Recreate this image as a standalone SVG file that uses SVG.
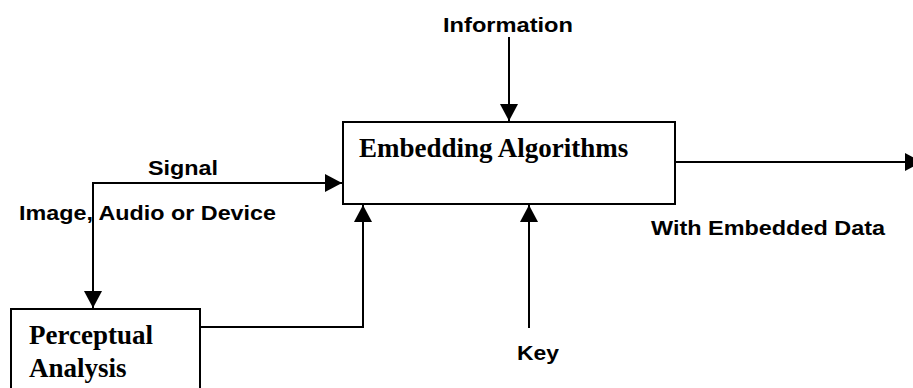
<svg xmlns="http://www.w3.org/2000/svg" width="913" height="388" viewBox="0 0 913 388">
  <style>
    .box { fill: #fff; stroke: #000; stroke-width: 2; }
    .wire { fill: none; stroke: #000; stroke-width: 2; }
    .lbl { font-family: "Liberation Sans", Arial, sans-serif; font-weight: bold; font-size: 20px; fill: #000; }
    .title { font-family: "Liberation Serif", "Times New Roman", serif; font-weight: bold; font-size: 27px; fill: #000; }
  </style>
  <defs>
    <marker id="arrow" viewBox="0 0 17 18" refX="17" refY="9" markerWidth="17" markerHeight="18" markerUnits="userSpaceOnUse" orient="auto">
      <path d="M0,0 L17,9 L0,18 Z" fill="#000"/>
    </marker>
  </defs>

  <rect width="913" height="388" fill="#fff"/>

  <g id="connectors">
    <!-- Information into the embedder -->
    <line class="wire" x1="509" y1="37" x2="509" y2="121" marker-end="url(#arrow)"/>
    <!-- Signal feed: to embedder and down to perceptual analysis -->
    <polyline class="wire" points="93,183 342,183" marker-end="url(#arrow)"/>
    <line class="wire" x1="93" y1="182" x2="93" y2="308" marker-end="url(#arrow)"/>
    <!-- Perceptual analysis result into the embedder -->
    <polyline class="wire" points="200,327 363,327 363,205" marker-end="url(#arrow)"/>
    <!-- Key into the embedder -->
    <line class="wire" x1="529" y1="328" x2="529" y2="205" marker-end="url(#arrow)"/>
    <!-- Output with embedded data, running off the right edge -->
    <line class="wire" x1="675" y1="162" x2="922" y2="162" marker-end="url(#arrow)"/>
  </g>

  <g id="embedding">
    <rect class="box" x="343" y="122" width="332" height="82"/>
    <text class="title" x="359" y="157">Embedding Algorithms</text>
  </g>

  <g id="perceptual">
    <rect class="box" x="11" y="309" width="189" height="90"/>
    <text class="title" x="29" y="344">Perceptual</text>
    <text class="title" x="29" y="377">Analysis</text>
  </g>

  <g id="labels">
    <text class="lbl" x="443" y="32" textLength="130" lengthAdjust="spacingAndGlyphs">Information</text>
    <text class="lbl" x="148" y="175" textLength="70" lengthAdjust="spacingAndGlyphs">Signal</text>
    <text class="lbl" x="19" y="220" textLength="257" lengthAdjust="spacingAndGlyphs">Image, Audio or Device</text>
    <text class="lbl" x="651" y="235" textLength="234" lengthAdjust="spacingAndGlyphs">With Embedded Data</text>
    <text class="lbl" x="517" y="360" textLength="42" lengthAdjust="spacingAndGlyphs">Key</text>
  </g>
</svg>
